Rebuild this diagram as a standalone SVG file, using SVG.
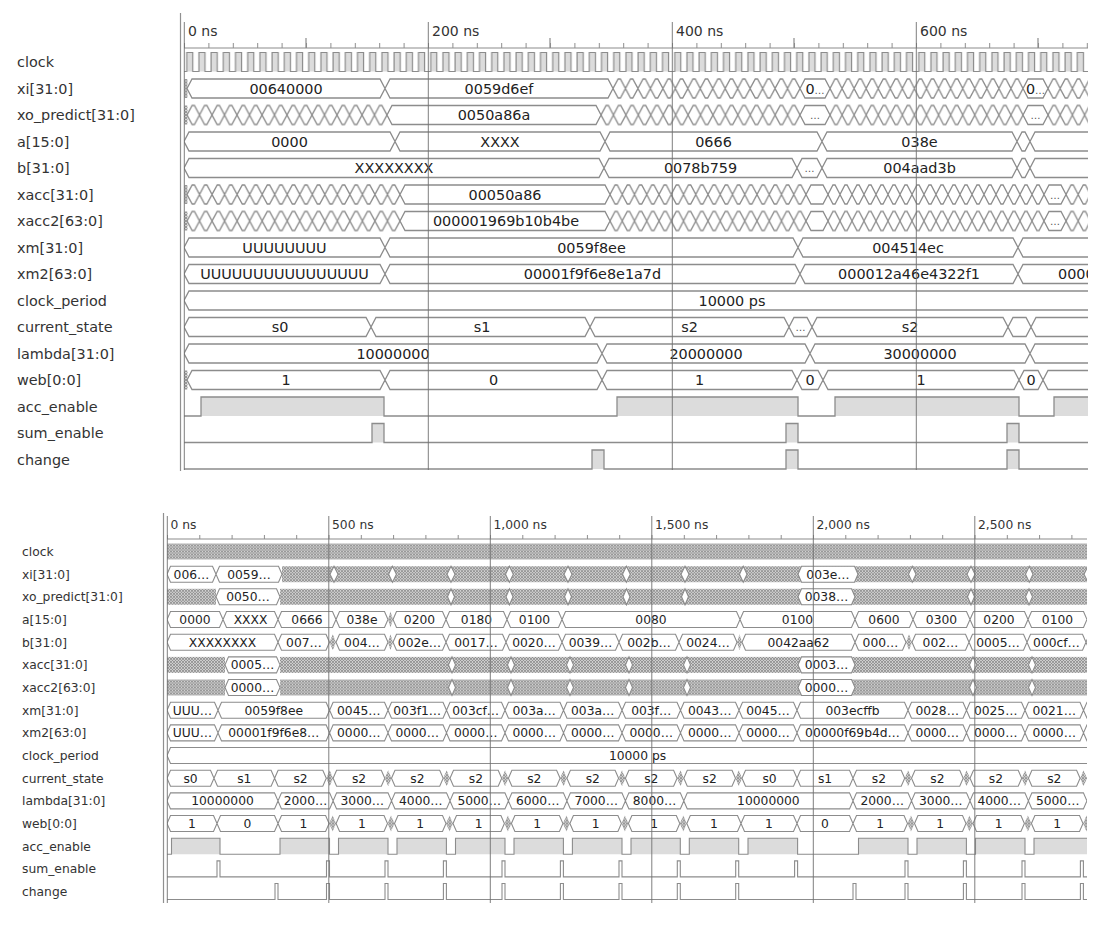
<svg xmlns="http://www.w3.org/2000/svg" width="1103" height="927" viewBox="0 0 1103 927">
<style>
.bus{fill:#fff;stroke:#8c8c8c;stroke-width:1.3}
.bb{fill:#fff;stroke:#8c8c8c;stroke-width:1.1}
.ln{fill:none;stroke:#8c8c8c;stroke-width:1.3}
.lnb{fill:none;stroke:#8c8c8c;stroke-width:1.1}
.hf{fill:#dcdcdc}
.ht{fill:url(#ht)}
.lt{font-family:"DejaVu Sans",Verdana,sans-serif;font-size:14.4px;fill:#333}
.lb{font-family:"DejaVu Sans",Verdana,sans-serif;font-size:12.3px;fill:#333}
.vt{font-family:"DejaVu Sans",Verdana,sans-serif;font-size:14.4px;fill:#222;text-anchor:middle}
.vb{font-family:"DejaVu Sans",Verdana,sans-serif;font-size:12.3px;fill:#222;text-anchor:middle}
.sm{font-size:10px;fill:#555}
.mk{stroke:#707070;stroke-width:0.9;fill:none}
.rl{stroke:#8c8c8c;stroke-width:1.2;fill:none}
.rt{font-family:"DejaVu Sans",Verdana,sans-serif;font-size:14px;fill:#333}
.rtb{font-family:"DejaVu Sans",Verdana,sans-serif;font-size:12.3px;fill:#333}
</style>
<defs>
<pattern id="ht" width="3" height="3" patternUnits="userSpaceOnUse"><rect width="3" height="3" fill="#d2d2d2"/><path d="M0,0L3,3M3,0L0,3" stroke="#808080" stroke-width="0.7"/></pattern>
<pattern id="chg" x="0" y="-10.5" width="12.2" height="21" patternUnits="userSpaceOnUse"><path d="M0,10.5L5,1H7.2L12.2,10.5L7.2,20H5Z" fill="#fff" stroke="#8c8c8c" stroke-width="1.3"/></pattern>
<pattern id="clk" x="185.7" y="-10" width="12.2" height="21" patternUnits="userSpaceOnUse"><rect x="1" y="0.5" width="6.1" height="19" fill="#dcdcdc"/><path d="M0,19.5H1V0.5H7.1V19.5H12.2" fill="none" stroke="#8c8c8c" stroke-width="1.2"/></pattern>
<pattern id="tk" x="184" y="43" width="24.4" height="5" patternUnits="userSpaceOnUse"><path d="M0.5,0V5" stroke="#8c8c8c" stroke-width="1"/></pattern>
<pattern id="tkb" x="167" y="535" width="32.3" height="4" patternUnits="userSpaceOnUse"><path d="M0.5,0V4" stroke="#8c8c8c" stroke-width="1"/></pattern>
<clipPath id="ct"><rect x="184" y="-14" width="904" height="28"/></clipPath>
<clipPath id="cb"><rect x="167" y="-12" width="920" height="24"/></clipPath>
</defs>
<rect width="1103" height="927" fill="#fff"/>

<!-- ================= TOP PANEL ================= -->
<g id="top-ruler">
<path class="rl" d="M184,48H1088"/>
<rect x="184" y="43" width="904" height="5" fill="url(#tk)"/>
<path class="rl" d="M306,38V48M550,38V48M794,38V48M1038,38V48"/>
<text class="rt" x="188" y="36">0 ns</text>
<text class="rt" x="432" y="36">200 ns</text>
<text class="rt" x="676" y="36">400 ns</text>
<text class="rt" x="920" y="36">600 ns</text>
</g>

<g id="top-clock" transform="translate(0,62)">
<text class="lt" x="17" y="5">clock</text>
<rect x="184" y="-10" width="904" height="21" fill="url(#clk)"/>
</g>

<g id="top-xi" transform="translate(0,88.5)">
<text class="lt" x="17" y="5">xi[31:0]</text>
<g clip-path="url(#ct)">
<rect class="ht" x="184" y="-9.5" width="3.5" height="19"/>
<rect x="0" y="-10.5" width="183" height="21" fill="url(#chg)" transform="translate(613,0) scale(1.0219,1)"/>
<rect x="0" y="-10.5" width="195.2" height="21" fill="url(#chg)" transform="translate(830,0) scale(0.9887,1)"/>
<rect x="0" y="-10.5" width="61" height="21" fill="url(#chg)" transform="translate(1048,0)"/>
<path class="bus" d="M187,0L192,-9.5H380L385,0L380,9.5H192Z M385,0L390,-9.5H608L613,0L608,9.5H390Z M800,0L805,-9.5H825L830,0L825,9.5H805Z M1023,0L1028,-9.5H1043L1048,0L1043,9.5H1028Z"/>
<text class="vt" x="286" y="5">00640000</text>
<text class="vt" x="499" y="5">0059d6ef</text>
<text class="vt" x="815" y="5">0<tspan class="sm">…</tspan></text>
<text class="vt" x="1035.5" y="5">0<tspan class="sm">…</tspan></text>
</g></g>

<g id="top-xo_predict" transform="translate(0,115)">
<text class="lt" x="17" y="5">xo_predict[31:0]</text>
<g clip-path="url(#ct)">
<rect class="ht" x="184" y="-9.5" width="3.5" height="19"/>
<rect x="0" y="-10.5" width="195.2" height="21" fill="url(#chg)" transform="translate(187,0) scale(1.0246,1)"/>
<rect x="0" y="-10.5" width="195.2" height="21" fill="url(#chg)" transform="translate(601,0) scale(1.0195,1)"/>
<rect x="0" y="-10.5" width="195.2" height="21" fill="url(#chg)" transform="translate(830,0) scale(0.9887,1)"/>
<rect x="0" y="-10.5" width="61" height="21" fill="url(#chg)" transform="translate(1048,0)"/>
<path class="bus" d="M387,0L392,-9.5H596L601,0L596,9.5H392Z M800,0L805,-9.5H825L830,0L825,9.5H805Z M1023,0L1028,-9.5H1043L1048,0L1043,9.5H1028Z"/>
<text class="vt" x="494" y="5">0050a86a</text>
<text class="vt sm" x="815" y="4">…</text>
<text class="vt sm" x="1035.5" y="4">…</text>
</g></g>

<g id="top-a" transform="translate(0,141.5)">
<text class="lt" x="17" y="5">a[15:0]</text>
<g clip-path="url(#ct)">
<path class="bus" d="M184,0L189,-9.5H390L395,0L390,9.5H189Z M395,0L400,-9.5H600L605,0L600,9.5H400Z M605,0L610,-9.5H817L822,0L817,9.5H610Z M822,0L827,-9.5H1012L1017,0L1012,9.5H827Z M1017,0L1022,-9.5H1025L1030,0L1025,9.5H1022Z M1030,0L1035,-9.5H1295L1300,0L1295,9.5H1035Z"/>
<text class="vt" x="289.5" y="5">0000</text>
<text class="vt" x="500" y="5">XXXX</text>
<text class="vt" x="713.5" y="5">0666</text>
<text class="vt" x="919.5" y="5">038e</text>
</g></g>

<g id="top-b" transform="translate(0,168)">
<text class="lt" x="17" y="5">b[31:0]</text>
<g clip-path="url(#ct)">
<path class="bus" d="M184,0L189,-9.5H599L604,0L599,9.5H189Z M604,0L609,-9.5H792L797,0L792,9.5H609Z M797,0L802,-9.5H817L822,0L817,9.5H802Z M822,0L827,-9.5H1012L1017,0L1012,9.5H827Z M1017,0L1022,-9.5H1025L1030,0L1025,9.5H1022Z M1030,0L1035,-9.5H1295L1300,0L1295,9.5H1035Z"/>
<text class="vt" x="394" y="5">XXXXXXXX</text>
<text class="vt" x="700.5" y="5">0078b759</text>
<text class="vt sm" x="809.5" y="4">…</text>
<text class="vt" x="919.5" y="5">004aad3b</text>
</g></g>

<g id="top-xacc" transform="translate(0,194.5)">
<text class="lt" x="17" y="5">xacc[31:0]</text>
<g clip-path="url(#ct)">
<rect class="ht" x="184" y="-9.5" width="3.5" height="19"/>
<rect x="0" y="-10.5" width="207.4" height="21" fill="url(#chg)" transform="translate(187,0) scale(1.027,1)"/>
<rect x="0" y="-10.5" width="195.2" height="21" fill="url(#chg)" transform="translate(610,0) scale(1.0041,1)"/>
<rect x="0" y="-10.5" width="219.6" height="21" fill="url(#chg)" transform="translate(828,0) scale(0.9836,1)"/>
<rect x="0" y="-10.5" width="48.8" height="21" fill="url(#chg)" transform="translate(1066,0)"/>
<path class="bus" d="M400,0L405,-9.5H605L610,0L605,9.5H405Z M806,0L811,-9.5H823L828,0L823,9.5H811Z M1044,0L1049,-9.5H1061L1066,0L1061,9.5H1049Z"/>
<text class="vt" x="505" y="5">00050a86</text>
<text class="vt sm" x="1055" y="4">…</text>
</g></g>

<g id="top-xacc2" transform="translate(0,221)">
<text class="lt" x="17" y="5">xacc2[63:0]</text>
<g clip-path="url(#ct)">
<rect class="ht" x="184" y="-9.5" width="3.5" height="19"/>
<rect x="0" y="-10.5" width="207.4" height="21" fill="url(#chg)" transform="translate(187,0) scale(1.027,1)"/>
<rect x="0" y="-10.5" width="195.2" height="21" fill="url(#chg)" transform="translate(610,0) scale(1.0041,1)"/>
<rect x="0" y="-10.5" width="219.6" height="21" fill="url(#chg)" transform="translate(828,0) scale(0.9836,1)"/>
<rect x="0" y="-10.5" width="48.8" height="21" fill="url(#chg)" transform="translate(1066,0)"/>
<path class="bus" d="M400,0L405,-9.5H605L610,0L605,9.5H405Z M806,0L811,-9.5H823L828,0L823,9.5H811Z M1044,0L1049,-9.5H1061L1066,0L1061,9.5H1049Z"/>
<text class="vt" x="506" y="5">000001969b10b4be</text>
<text class="vt sm" x="1055" y="4">…</text>
</g></g>

<g id="top-xm" transform="translate(0,247.5)">
<text class="lt" x="17" y="5">xm[31:0]</text>
<g clip-path="url(#ct)">
<path class="bus" d="M184,0L189,-9.5H380L385,0L380,9.5H189Z M385,0L390,-9.5H793L798,0L793,9.5H390Z M798,0L803,-9.5H1013L1018,0L1013,9.5H803Z M1018,0L1023,-9.5H1295L1300,0L1295,9.5H1023Z"/>
<text class="vt" x="284.5" y="5">UUUUUUUU</text>
<text class="vt" x="591.5" y="5">0059f8ee</text>
<text class="vt" x="908" y="5">004514ec</text>
</g></g>

<g id="top-xm2" transform="translate(0,274)">
<text class="lt" x="17" y="5">xm2[63:0]</text>
<g clip-path="url(#ct)">
<path class="bus" d="M184,0L189,-9.5H380L385,0L380,9.5H189Z M385,0L390,-9.5H795L800,0L795,9.5H390Z M800,0L805,-9.5H1013L1018,0L1013,9.5H805Z M1018,0L1023,-9.5H1295L1300,0L1295,9.5H1023Z"/>
<text class="vt" x="284.5" y="5">UUUUUUUUUUUUUUUU</text>
<text class="vt" x="592.5" y="5">00001f9f6e8e1a7d</text>
<text class="vt" x="909" y="5">000012a46e4322f1</text>
<text class="vt" x="1058" y="5" style="text-anchor:start">0000</text>
</g></g>

<g id="top-clock_period" transform="translate(0,300.5)">
<text class="lt" x="17" y="5">clock_period</text>
<g clip-path="url(#ct)">
<path class="bus" d="M184,0L189,-9.5H1395L1400,0L1395,9.5H189Z"/>
<text class="vt" x="732" y="5">10000 ps</text>
</g></g>

<g id="top-current_state" transform="translate(0,327)">
<text class="lt" x="17" y="5">current_state</text>
<g clip-path="url(#ct)">
<path class="bus" d="M184,0L189,-9.5H366L371,0L366,9.5H189Z M371,0L376,-9.5H585L590,0L585,9.5H376Z M590,0L595,-9.5H784L789,0L784,9.5H595Z M789,0L794,-9.5H807L812,0L807,9.5H794Z M812,0L817,-9.5H1003L1008,0L1003,9.5H817Z M1008,0L1013,-9.5H1026L1031,0L1026,9.5H1013Z M1031,0L1036,-9.5H1295L1300,0L1295,9.5H1036Z"/>
<text class="vt" x="280" y="5">s0</text>
<text class="vt" x="482" y="5">s1</text>
<text class="vt" x="689.5" y="5">s2</text>
<text class="vt sm" x="800.5" y="4">…</text>
<text class="vt" x="910" y="5">s2</text>
</g></g>

<g id="top-lambda" transform="translate(0,353.5)">
<text class="lt" x="17" y="5">lambda[31:0]</text>
<g clip-path="url(#ct)">
<path class="bus" d="M184,0L189,-9.5H597L602,0L597,9.5H189Z M602,0L607,-9.5H805L810,0L805,9.5H607Z M810,0L815,-9.5H1025L1030,0L1025,9.5H815Z M1030,0L1035,-9.5H1295L1300,0L1295,9.5H1035Z"/>
<text class="vt" x="393" y="5">10000000</text>
<text class="vt" x="706" y="5">20000000</text>
<text class="vt" x="920" y="5">30000000</text>
</g></g>

<g id="top-web" transform="translate(0,380)">
<text class="lt" x="17" y="5">web[0:0]</text>
<g clip-path="url(#ct)">
<rect class="ht" x="184" y="-9.5" width="3.5" height="19"/>
<path class="bus" d="M187,0L192,-9.5H380L385,0L380,9.5H192Z M385,0L390,-9.5H597L602,0L597,9.5H390Z M602,0L607,-9.5H792L797,0L792,9.5H607Z M797,0L802,-9.5H818L823,0L818,9.5H802Z M823,0L828,-9.5H1014L1019,0L1014,9.5H828Z M1019,0L1024,-9.5H1038L1043,0L1038,9.5H1024Z M1043,0L1048,-9.5H1295L1300,0L1295,9.5H1048Z"/>
<text class="vt" x="286" y="5">1</text>
<text class="vt" x="493.5" y="5">0</text>
<text class="vt" x="699.5" y="5">1</text>
<text class="vt" x="810" y="5">0</text>
<text class="vt" x="921" y="5">1</text>
<text class="vt" x="1031" y="5">0</text>
</g></g>

<g id="top-acc_enable" transform="translate(0,406.5)">
<text class="lt" x="17" y="5">acc_enable</text>
<g clip-path="url(#ct)">
<path class="hf" d="M201,9.5V-9.5H384V9.5Z M617,9.5V-9.5H798V9.5Z M835,9.5V-9.5H1019V9.5Z M1054,9.5V-9.5H1090V9.5Z"/>
<path class="ln" d="M184,9.5H201V-9.5H384V9.5H617V-9.5H798V9.5H835V-9.5H1019V9.5H1054V-9.5H1090"/>
</g></g>

<g id="top-sum_enable" transform="translate(0,433)">
<text class="lt" x="17" y="5">sum_enable</text>
<g clip-path="url(#ct)">
<path class="hf" d="M372,9.5V-9.5H384V9.5Z M786,9.5V-9.5H798V9.5Z M1007,9.5V-9.5H1019V9.5Z"/>
<path class="ln" d="M184,9.5H372V-9.5H384V9.5H786V-9.5H798V9.5H1007V-9.5H1019V9.5H1090"/>
</g></g>

<g id="top-change" transform="translate(0,459.5)">
<text class="lt" x="17" y="5">change</text>
<g clip-path="url(#ct)">
<path class="hf" d="M592,9.5V-9.5H604V9.5Z M786,9.5V-9.5H798V9.5Z M1007,9.5V-9.5H1019V9.5Z"/>
<path class="ln" d="M184,9.5H592V-9.5H604V9.5H786V-9.5H798V9.5H1007V-9.5H1019V9.5H1090"/>
</g></g>

<g id="top-markers">
<path class="mk" d="M184.3,22V470 M428.3,22V470 M672.3,22V470 M916.3,22V470"/>
<path d="M180.5,13V471" stroke="#909090" stroke-width="1.2" fill="none"/>
</g>

<!-- ================= BOTTOM PANEL ================= -->
<g id="bot-ruler">
<path class="rl" d="M167,539H1087"/>
<rect x="167" y="535" width="920" height="4" fill="url(#tkb)"/>
<text class="rtb" x="170.5" y="529">0 ns</text>
<text class="rtb" x="332" y="529">500 ns</text>
<text class="rtb" x="493.5" y="529">1,000 ns</text>
<text class="rtb" x="655" y="529">1,500 ns</text>
<text class="rtb" x="816.5" y="529">2,000 ns</text>
<text class="rtb" x="978" y="529">2,500 ns</text>
</g>

<g id="bot-clock" transform="translate(0,551.5)">
<text class="lb" x="22" y="4.5">clock</text>
<rect class="ht" x="167" y="-8" width="920" height="16"/>
</g>

<g id="bot-xi" transform="translate(0,574.2)">
<text class="lb" x="22" y="4.5">xi[31:0]</text>
<g clip-path="url(#cb)">
<rect class="ht" x="282" y="-8" width="810" height="16"/>
<path class="bb" d="M167,0L170.5,-8H212.5L216,0L212.5,8H170.5Z M216,0L219.5,-8H278.5L282,0L278.5,8H219.5Z M798,0L801.5,-8H854.5L858,0L854.5,8H801.5Z M330,0L334,-8L338,0L334,8Z M388.6,0L392.5,-8L396.4,0L392.5,8Z M447,0L451,-8L455,0L451,8Z M505.5,0L509.4,-8L513.3,0L509.4,8Z M564,0L568,-8L572,0L568,8Z M622.5,0L626.4,-8L630.3,0L626.4,8Z M681,0L685,-8L689,0L685,8Z M739.5,0L743.25,-8L747,0L743.25,8Z M908.5,0L912.25,-8L916,0L912.25,8Z M967,0L971,-8L975,0L971,8Z M1025.5,0L1029.25,-8L1033,0L1029.25,8Z M1084,0L1088,-8L1092,0L1088,8Z"/>
<text class="vb" x="191.5" y="4.5">006…</text>
<text class="vb" x="249" y="4.5">0059…</text>
<text class="vb" x="828" y="4.5">003e…</text>
</g></g>

<g id="bot-xo_predict" transform="translate(0,596.8)">
<text class="lb" x="22" y="4.5">xo_predict[31:0]</text>
<g clip-path="url(#cb)">
<rect class="ht" x="167" y="-8" width="49" height="16"/>
<rect class="ht" x="280" y="-8" width="812" height="16"/>
<path class="bb" d="M216,0L219.5,-8H276.5L280,0L276.5,8H219.5Z M798,0L801.5,-8H851.5L855,0L851.5,8H801.5Z M447.5,0L451,-8L454.5,0L451,8Z M506,0L509.5,-8L513,0L509.5,8Z M564.5,0L568,-8L571.5,0L568,8Z M623,0L626.5,-8L630,0L626.5,8Z M681.5,0L685,-8L688.5,0L685,8Z M967.5,0L971,-8L974.5,0L971,8Z M1025.5,0L1029,-8L1032.5,0L1029,8Z"/>
<text class="vb" x="248" y="4.5">0050…</text>
<text class="vb" x="826.5" y="4.5">0038…</text>
</g></g>

<g id="bot-a" transform="translate(0,619.5)">
<text class="lb" x="22" y="4.5">a[15:0]</text>
<g clip-path="url(#cb)">
<path class="ht" d="M388,0L390.5,-8L393,0L390.5,8Z"/>
<path class="bb" d="M167,0L170.5,-8H219.5L223,0L219.5,8H170.5Z M223,0L226.5,-8H274.5L278,0L274.5,8H226.5Z M278,0L281.5,-8H332.5L336,0L332.5,8H281.5Z M336,0L339.5,-8H384.5L388,0L384.5,8H339.5Z M393,0L396.5,-8H442.5L446,0L442.5,8H396.5Z M446,0L449.5,-8H503.5L507,0L503.5,8H449.5Z M507,0L510.5,-8H558.5L562,0L558.5,8H510.5Z M562,0L565.5,-8H736.5L740,0L736.5,8H565.5Z M740,0L743.5,-8H851.5L855,0L851.5,8H743.5Z M855,0L858.5,-8H909.5L913,0L909.5,8H858.5Z M913,0L916.5,-8H966.5L970,0L966.5,8H916.5Z M970,0L973.5,-8H1024.5L1028,0L1024.5,8H973.5Z M1028,0L1031.5,-8H1083.5L1087,0L1083.5,8H1031.5Z M1087,0L1090.5,-8H1146.5L1150,0L1146.5,8H1090.5Z"/>
<text class="vb" x="195" y="4.5">0000</text>
<text class="vb" x="250.5" y="4.5">XXXX</text>
<text class="vb" x="307" y="4.5">0666</text>
<text class="vb" x="362" y="4.5">038e</text>
<text class="vb" x="419.5" y="4.5">0200</text>
<text class="vb" x="476.5" y="4.5">0180</text>
<text class="vb" x="534.5" y="4.5">0100</text>
<text class="vb" x="651" y="4.5">0080</text>
<text class="vb" x="797.5" y="4.5">0100</text>
<text class="vb" x="884" y="4.5">0600</text>
<text class="vb" x="941.5" y="4.5">0300</text>
<text class="vb" x="999" y="4.5">0200</text>
<text class="vb" x="1057.5" y="4.5">0100</text>
</g></g>

<g id="bot-b" transform="translate(0,642.2)">
<text class="lb" x="22" y="4.5">b[31:0]</text>
<g clip-path="url(#cb)">
<path class="ht" d="M329.5,0L332.75,-8L336,0L332.75,8Z M388,0L390.5,-8L393,0L390.5,8Z M737,0L739.5,-8L742,0L739.5,8Z M906,0L909,-8L912,0L909,8Z"/>
<path class="bb" d="M167,0L170.5,-8H274.5L278,0L274.5,8H170.5Z M278,0L281.5,-8H326L329.5,0L326,8H281.5Z M336,0L339.5,-8H384.5L388,0L384.5,8H339.5Z M393,0L396.5,-8H442.5L446,0L442.5,8H396.5Z M446,0L449.5,-8H502.5L506,0L502.5,8H449.5Z M506,0L509.5,-8H558.5L562,0L558.5,8H509.5Z M562,0L565.5,-8H615.5L619,0L615.5,8H565.5Z M619,0L622.5,-8H675.5L679,0L675.5,8H622.5Z M679,0L682.5,-8H733.5L737,0L733.5,8H682.5Z M742,0L745.5,-8H851.5L855,0L851.5,8H745.5Z M855,0L858.5,-8H902.5L906,0L902.5,8H858.5Z M912,0L915.5,-8H965.5L969,0L965.5,8H915.5Z M969,0L972.5,-8H1023.5L1027,0L1023.5,8H972.5Z M1027,0L1030.5,-8H1082.5L1086,0L1082.5,8H1030.5Z M1086,0L1089.5,-8H1146.5L1150,0L1146.5,8H1089.5Z"/>
<text class="vb" x="222.5" y="4.5">XXXXXXXX</text>
<text class="vb" x="304" y="4.5">007…</text>
<text class="vb" x="362" y="4.5">004…</text>
<text class="vb" x="419.5" y="4.5">002e…</text>
<text class="vb" x="476" y="4.5">0017…</text>
<text class="vb" x="534" y="4.5">0020…</text>
<text class="vb" x="590.5" y="4.5">0039…</text>
<text class="vb" x="649" y="4.5">002b…</text>
<text class="vb" x="708" y="4.5">0024…</text>
<text class="vb" x="798.5" y="4.5">0042aa62</text>
<text class="vb" x="880.5" y="4.5">000…</text>
<text class="vb" x="940.5" y="4.5">002…</text>
<text class="vb" x="998" y="4.5">0005…</text>
<text class="vb" x="1056.5" y="4.5">000cf…</text>
</g></g>

<g id="bot-xacc" transform="translate(0,664.9)">
<text class="lb" x="22" y="4.5">xacc[31:0]</text>
<g clip-path="url(#cb)">
<rect class="ht" x="167" y="-8" width="58" height="16"/>
<rect class="ht" x="280" y="-8" width="812" height="16"/>
<path class="bb" d="M225,0L228.5,-8H276.5L280,0L276.5,8H228.5Z M798,0L801.5,-8H851.5L855,0L851.5,8H801.5Z M448.5,0L452,-8L455.5,0L452,8Z M507.5,0L511,-8L514.5,0L511,8Z M566.5,0L570,-8L573.5,0L570,8Z M625.5,0L629,-8L632.5,0L629,8Z M683.5,0L687,-8L690.5,0L687,8Z M969.5,0L973,-8L976.5,0L973,8Z M1028.5,0L1032,-8L1035.5,0L1032,8Z"/>
<text class="vb" x="252.5" y="4.5">0005…</text>
<text class="vb" x="826.5" y="4.5">0003…</text>
</g></g>

<g id="bot-xacc2" transform="translate(0,687.5)">
<text class="lb" x="22" y="4.5">xacc2[63:0]</text>
<g clip-path="url(#cb)">
<rect class="ht" x="167" y="-8" width="58" height="16"/>
<rect class="ht" x="280" y="-8" width="812" height="16"/>
<path class="bb" d="M225,0L228.5,-8H276.5L280,0L276.5,8H228.5Z M798,0L801.5,-8H851.5L855,0L851.5,8H801.5Z M448.5,0L452,-8L455.5,0L452,8Z M507.5,0L511,-8L514.5,0L511,8Z M566.5,0L570,-8L573.5,0L570,8Z M625.5,0L629,-8L632.5,0L629,8Z M683.5,0L687,-8L690.5,0L687,8Z M969.5,0L973,-8L976.5,0L973,8Z M1028.5,0L1032,-8L1035.5,0L1032,8Z"/>
<text class="vb" x="252.5" y="4.5">0000…</text>
<text class="vb" x="826.5" y="4.5">0000…</text>
</g></g>

<g id="bot-xm" transform="translate(0,710.2)">
<text class="lb" x="22" y="4.5">xm[31:0]</text>
<g clip-path="url(#cb)">
<path class="bb" d="M167,0L170.5,-8H214.5L218,0L214.5,8H170.5Z M218,0L221.5,-8H326.1L329.6,0L326.1,8H221.5Z M329.6,0L333.1,-8H384.5L388,0L384.5,8H333.1Z M388,0L391.5,-8H443L446.5,0L443,8H391.5Z M446.5,0L450,-8H501.5L505,0L501.5,8H450Z M505,0L508.5,-8H560L563.5,0L560,8H508.5Z M563.5,0L567,-8H618.5L622,0L618.5,8H567Z M622,0L625.5,-8H677L680.5,0L677,8H625.5Z M680.5,0L684,-8H735.5L739,0L735.5,8H684Z M739,0L742.5,-8H793.5L797,0L793.5,8H742.5Z M797,0L800.5,-8H904.5L908,0L904.5,8H800.5Z M908,0L911.5,-8H963L966.5,0L963,8H911.5Z M966.5,0L970,-8H1021.5L1025,0L1021.5,8H970Z M1025,0L1028.5,-8H1080L1083.5,0L1080,8H1028.5Z M1083.5,0L1087,-8H1146.5L1150,0L1146.5,8H1087Z"/>
<text class="vb" x="192.5" y="4.5">UUU…</text>
<text class="vb" x="273.8" y="4.5">0059f8ee</text>
<text class="vb" x="358.8" y="4.5">0045…</text>
<text class="vb" x="417.2" y="4.5">003f1…</text>
<text class="vb" x="475.7" y="4.5">003cf…</text>
<text class="vb" x="534.2" y="4.5">003a…</text>
<text class="vb" x="592.7" y="4.5">003a…</text>
<text class="vb" x="651.2" y="4.5">003f…</text>
<text class="vb" x="709.7" y="4.5">0043…</text>
<text class="vb" x="768" y="4.5">0045…</text>
<text class="vb" x="852.5" y="4.5">003ecffb</text>
<text class="vb" x="937.2" y="4.5">0028…</text>
<text class="vb" x="995.7" y="4.5">0025…</text>
<text class="vb" x="1054.2" y="4.5">0021…</text>
</g></g>

<g id="bot-xm2" transform="translate(0,732.9)">
<text class="lb" x="22" y="4.5">xm2[63:0]</text>
<g clip-path="url(#cb)">
<path class="bb" d="M167,0L170.5,-8H214.5L218,0L214.5,8H170.5Z M218,0L221.5,-8H326.1L329.6,0L326.1,8H221.5Z M329.6,0L333.1,-8H384.5L388,0L384.5,8H333.1Z M388,0L391.5,-8H443L446.5,0L443,8H391.5Z M446.5,0L450,-8H501.5L505,0L501.5,8H450Z M505,0L508.5,-8H560L563.5,0L560,8H508.5Z M563.5,0L567,-8H618.5L622,0L618.5,8H567Z M622,0L625.5,-8H677L680.5,0L677,8H625.5Z M680.5,0L684,-8H735.5L739,0L735.5,8H684Z M739,0L742.5,-8H793.5L797,0L793.5,8H742.5Z M797,0L800.5,-8H904.5L908,0L904.5,8H800.5Z M908,0L911.5,-8H963L966.5,0L963,8H911.5Z M966.5,0L970,-8H1021.5L1025,0L1021.5,8H970Z M1025,0L1028.5,-8H1080L1083.5,0L1080,8H1028.5Z M1083.5,0L1087,-8H1146.5L1150,0L1146.5,8H1087Z"/>
<text class="vb" x="192.5" y="4.5">UUU…</text>
<text class="vb" x="273.8" y="4.5">00001f9f6e8…</text>
<text class="vb" x="358.8" y="4.5">0000…</text>
<text class="vb" x="417.2" y="4.5">0000…</text>
<text class="vb" x="475.7" y="4.5">0000…</text>
<text class="vb" x="534.2" y="4.5">0000…</text>
<text class="vb" x="592.7" y="4.5">0000…</text>
<text class="vb" x="651.2" y="4.5">0000…</text>
<text class="vb" x="709.7" y="4.5">0000…</text>
<text class="vb" x="768" y="4.5">0000…</text>
<text class="vb" x="852.5" y="4.5">00000f69b4d…</text>
<text class="vb" x="937.2" y="4.5">0000…</text>
<text class="vb" x="995.7" y="4.5">0000…</text>
<text class="vb" x="1054.2" y="4.5">0000…</text>
</g></g>

<g id="bot-clock_period" transform="translate(0,755.5)">
<text class="lb" x="22" y="4.5">clock_period</text>
<g clip-path="url(#cb)">
<path class="bb" d="M167,0L170.5,-8H1196.5L1200,0L1196.5,8H170.5Z"/>
<text class="vb" x="637.5" y="4.5">10000 ps</text>
</g></g>

<g id="bot-current_state" transform="translate(0,778.2)">
<text class="lb" x="22" y="4.5">current_state</text>
<g clip-path="url(#cb)">
<path class="ht" d="M326.3,0L329.7,-8L333.1,0L329.7,8Z M384.8,0L388.15,-8L391.5,0L388.15,8Z M443.2,0L446.6,-8L450,0L446.6,8Z M501.7,0L505.05,-8L508.4,0L505.05,8Z M560.1,0L563.5,-8L566.9,0L563.5,8Z M618.6,0L622,-8L625.4,0L622,8Z M677.1,0L680.45,-8L683.8,0L680.45,8Z M735.5,0L738.75,-8L742,0L738.75,8Z M904.7,0L908.1,-8L911.5,0L908.1,8Z M963.2,0L966.6,-8L970,0L966.6,8Z M1021.7,0L1025.05,-8L1028.4,0L1025.05,8Z M1080.1,0L1083.55,-8L1087,0L1083.55,8Z"/>
<path class="bb" d="M167,0L170.5,-8H210.5L214,0L210.5,8H170.5Z M214,0L217.5,-8H271.1L274.6,0L271.1,8H217.5Z M274.6,0L278.1,-8H322.8L326.3,0L322.8,8H278.1Z M333.1,0L336.6,-8H381.3L384.8,0L381.3,8H336.6Z M391.5,0L395,-8H439.7L443.2,0L439.7,8H395Z M450,0L453.5,-8H498.2L501.7,0L498.2,8H453.5Z M508.4,0L511.9,-8H556.6L560.1,0L556.6,8H511.9Z M566.9,0L570.4,-8H615.1L618.6,0L615.1,8H570.4Z M625.4,0L628.9,-8H673.6L677.1,0L673.6,8H628.9Z M683.8,0L687.3,-8H732L735.5,0L732,8H687.3Z M742,0L745.5,-8H793.5L797,0L793.5,8H745.5Z M797,0L800.5,-8H849.5L853,0L849.5,8H800.5Z M853,0L856.5,-8H901.2L904.7,0L901.2,8H856.5Z M911.5,0L915,-8H959.7L963.2,0L959.7,8H915Z M970,0L973.5,-8H1018.2L1021.7,0L1018.2,8H973.5Z M1028.4,0L1031.9,-8H1076.6L1080.1,0L1076.6,8H1031.9Z M1087,0L1090.5,-8H1146.5L1150,0L1146.5,8H1090.5Z"/>
<text class="vb" x="190.5" y="4.5">s0</text>
<text class="vb" x="244.3" y="4.5">s1</text>
<text class="vb" x="300.5" y="4.5">s2</text>
<text class="vb" x="359" y="4.5">s2</text>
<text class="vb" x="417.4" y="4.5">s2</text>
<text class="vb" x="475.9" y="4.5">s2</text>
<text class="vb" x="534.3" y="4.5">s2</text>
<text class="vb" x="592.8" y="4.5">s2</text>
<text class="vb" x="651.3" y="4.5">s2</text>
<text class="vb" x="709.7" y="4.5">s2</text>
<text class="vb" x="769.5" y="4.5">s0</text>
<text class="vb" x="825" y="4.5">s1</text>
<text class="vb" x="878.9" y="4.5">s2</text>
<text class="vb" x="937.4" y="4.5">s2</text>
<text class="vb" x="995.9" y="4.5">s2</text>
<text class="vb" x="1054.3" y="4.5">s2</text>
</g></g>

<g id="bot-lambda" transform="translate(0,800.9)">
<text class="lb" x="22" y="4.5">lambda[31:0]</text>
<g clip-path="url(#cb)">
<path class="bb" d="M167,0L170.5,-8H274.5L278,0L274.5,8H170.5Z M278,0L281.5,-8H329.6L333.1,0L329.6,8H281.5Z M333.1,0L336.6,-8H388L391.5,0L388,8H336.6Z M391.5,0L395,-8H446.5L450,0L446.5,8H395Z M450,0L453.5,-8H504.9L508.4,0L504.9,8H453.5Z M508.4,0L511.9,-8H563.4L566.9,0L563.4,8H511.9Z M566.9,0L570.4,-8H621.9L625.4,0L621.9,8H570.4Z M625.4,0L628.9,-8H680.3L683.8,0L680.3,8H628.9Z M683.8,0L687.3,-8H849.5L853,0L849.5,8H687.3Z M853,0L856.5,-8H908L911.5,0L908,8H856.5Z M911.5,0L915,-8H966.5L970,0L966.5,8H915Z M970,0L973.5,-8H1024.9L1028.4,0L1024.9,8H973.5Z M1028.4,0L1031.9,-8H1083.4L1086.9,0L1083.4,8H1031.9Z M1086.9,0L1090.4,-8H1146.5L1150,0L1146.5,8H1090.4Z"/>
<text class="vb" x="222.5" y="4.5">10000000</text>
<text class="vb" x="305.5" y="4.5">2000…</text>
<text class="vb" x="362.3" y="4.5">3000…</text>
<text class="vb" x="420.8" y="4.5">4000…</text>
<text class="vb" x="479.2" y="4.5">5000…</text>
<text class="vb" x="537.7" y="4.5">6000…</text>
<text class="vb" x="596.2" y="4.5">7000…</text>
<text class="vb" x="654.6" y="4.5">8000…</text>
<text class="vb" x="768.4" y="4.5">10000000</text>
<text class="vb" x="882.2" y="4.5">2000…</text>
<text class="vb" x="940.8" y="4.5">3000…</text>
<text class="vb" x="999.2" y="4.5">4000…</text>
<text class="vb" x="1057.7" y="4.5">5000…</text>
</g></g>

<g id="bot-web" transform="translate(0,823.5)">
<text class="lb" x="22" y="4.5">web[0:0]</text>
<g clip-path="url(#cb)">
<path class="ht" d="M329.1,0L332.6,-8L336.1,0L332.6,8Z M387.5,0L391,-8L394.5,0L391,8Z M446,0L449.5,-8L453,0L449.5,8Z M504.4,0L507.9,-8L511.4,0L507.9,8Z M562.9,0L566.4,-8L569.9,0L566.4,8Z M621.4,0L624.9,-8L628.4,0L624.9,8Z M679.8,0L683.3,-8L686.8,0L683.3,8Z M907.5,0L911,-8L914.5,0L911,8Z M966,0L969.5,-8L973,0L969.5,8Z M1024.4,0L1027.9,-8L1031.4,0L1027.9,8Z M1083,0L1086.5,-8L1090,0L1086.5,8Z"/>
<path class="bb" d="M167,0L170.5,-8H213.5L217,0L213.5,8H170.5Z M217,0L220.5,-8H274.5L278,0L274.5,8H220.5Z M278,0L281.5,-8H325.6L329.1,0L325.6,8H281.5Z M336.1,0L339.6,-8H384L387.5,0L384,8H339.6Z M394.5,0L398,-8H442.5L446,0L442.5,8H398Z M453,0L456.5,-8H500.9L504.4,0L500.9,8H456.5Z M511.4,0L514.9,-8H559.4L562.9,0L559.4,8H514.9Z M569.9,0L573.4,-8H617.9L621.4,0L617.9,8H573.4Z M628.4,0L631.9,-8H676.3L679.8,0L676.3,8H631.9Z M686.8,0L690.3,-8H737.5L741,0L737.5,8H690.3Z M741,0L744.5,-8H793.5L797,0L793.5,8H744.5Z M797,0L800.5,-8H849.5L853,0L849.5,8H800.5Z M853,0L856.5,-8H904L907.5,0L904,8H856.5Z M914.5,0L918,-8H962.5L966,0L962.5,8H918Z M973,0L976.5,-8H1020.9L1024.4,0L1020.9,8H976.5Z M1031.4,0L1034.9,-8H1079.5L1083,0L1079.5,8H1034.9Z M1090,0L1093.5,-8H1146.5L1150,0L1146.5,8H1093.5Z"/>
<text class="vb" x="192" y="4.5">1</text>
<text class="vb" x="247.5" y="4.5">0</text>
<text class="vb" x="303.5" y="4.5">1</text>
<text class="vb" x="361.8" y="4.5">1</text>
<text class="vb" x="420.2" y="4.5">1</text>
<text class="vb" x="478.7" y="4.5">1</text>
<text class="vb" x="537.2" y="4.5">1</text>
<text class="vb" x="595.7" y="4.5">1</text>
<text class="vb" x="654.1" y="4.5">1</text>
<text class="vb" x="713.9" y="4.5">1</text>
<text class="vb" x="769" y="4.5">1</text>
<text class="vb" x="825" y="4.5">0</text>
<text class="vb" x="880.2" y="4.5">1</text>
<text class="vb" x="940.2" y="4.5">1</text>
<text class="vb" x="998.7" y="4.5">1</text>
<text class="vb" x="1057.2" y="4.5">1</text>
</g></g>

<g id="bot-acc_enable" transform="translate(0,846.2)">
<text class="lb" x="22" y="4.5">acc_enable</text>
<g clip-path="url(#cb)">
<path class="hf" d="M171.5,8V-8H220V8Z M280,8V-8H329.5V8Z M338.5,8V-8H388V8Z M397,8V-8H446.4V8Z M455.5,8V-8H505V8Z M514,8V-8H563.4V8Z M572.4,8V-8H622V8Z M631,8V-8H680.3V8Z M689.3,8V-8H738.7V8Z M748,8V-8H797.6V8Z M858.5,8V-8H908V8Z M917,8V-8H966.4V8Z M975.5,8V-8H1025V8Z M1034,8V-8H1090V8Z"/>
<path class="lnb" d="M167,8H171.5V-8H220V8H280V-8H329.5V8H338.5V-8H388V8H397V-8H446.4V8H455.5V-8H505V8H514V-8H563.4V8H572.4V-8H622V8H631V-8H680.3V8H689.3V-8H738.7V8H748V-8H797.6V8H858.5V-8H908V8H917V-8H966.4V8H975.5V-8H1025V8H1034V-8H1090"/>
</g></g>

<g id="bot-sum_enable" transform="translate(0,868.9)">
<text class="lb" x="22" y="4.5">sum_enable</text>
<g clip-path="url(#cb)">
<path class="lnb" d="M167,8H217V-8H220V8H326.5V-8H329.5V8H385V-8H388V8H443.4V-8H446.4V8H502V-8H505V8H560.4V-8H563.4V8H619V-8H622V8H677.3V-8H680.3V8H735.7V-8H738.7V8H794.6V-8H797.6V8H905V-8H908V8H963.4V-8H966.4V8H1022V-8H1025V8H1080.4V-8H1083.4V8H1090"/>
</g></g>

<g id="bot-change" transform="translate(0,891.5)">
<text class="lb" x="22" y="4.5">change</text>
<g clip-path="url(#cb)">
<path class="lnb" d="M167,8H275V-8H278V8H326.5V-8H329.5V8H385V-8H388V8H443.4V-8H446.4V8H502V-8H505V8H560.4V-8H563.4V8H619V-8H622V8H677.3V-8H680.3V8H735.7V-8H738.7V8H853V-8H856V8H905V-8H908V8H963.4V-8H966.4V8H1022V-8H1025V8H1080.4V-8H1083.4V8H1090"/>
</g></g>

<g id="bot-markers">
<path class="mk" d="M167.3,516V903 M328.8,516V903 M490.3,516V903 M651.8,516V903 M813.3,516V903 M974.8,516V903"/>
<path d="M163.5,513V903" stroke="#909090" stroke-width="1.2" fill="none"/>
</g>
</svg>
